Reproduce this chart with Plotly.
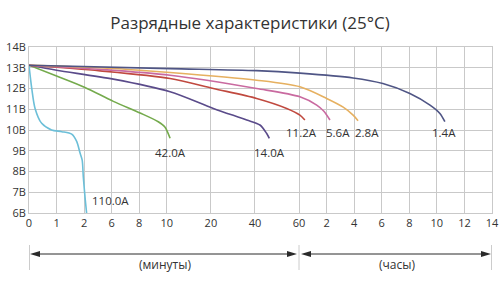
import plotly.graph_objects as go

# axis: tick positions (axis units) and their labels
tick_pos = [0, 1, 2, 3, 4, 5, 6.6, 8.2, 9.8, 10.8, 11.8, 12.8, 13.8, 14.8, 15.8, 16.8]
tick_text = ["0", "1", "2", "6", "8", "10", "20", "40", "60", "2", "4", "6", "8", "10", "12", "14"]
y_ticks = [6, 7, 8, 9, 10, 11, 12, 13, 14]
y_text = ["6В", "7В", "8В", "9В", "10В", "11В", "12В", "13В", "14В"]

# discharge curves (x in axis units, y in volts)
x_110 = [0, 0.1, 0.22, 0.46, 0.82, 1.19, 1.55, 1.73, 1.85, 1.93, 1.97, 2.03, 2.09]
y_110 = [13.12, 12.0, 11.04, 10.32, 10.0, 9.92, 9.8, 9.45, 8.9, 8.55, 7.75, 6.8, 6.0]

x_42 = [0, 1.0, 2.03, 3.06, 4.03, 4.69, 4.93, 5.12]
y_42 = [13.12, 12.6, 12.05, 11.38, 10.82, 10.4, 10.15, 9.6]

x_14 = [0, 1.0, 3.06, 5.12, 6.69, 7.9, 8.38, 8.62, 8.72]
y_14 = [13.12, 12.88, 12.45, 11.84, 11.04, 10.48, 10.24, 9.84, 9.6]

x_112 = [0, 2.58, 5.12, 6.69, 8.26, 9.35, 9.83, 10.01]
y_112 = [13.12, 12.85, 12.48, 12.0, 11.52, 11.04, 10.72, 10.48]

x_56 = [0, 2.58, 5.12, 8.26, 9.83, 10.44, 10.7, 10.92]
y_56 = [13.12, 12.92, 12.64, 12.0, 11.6, 11.2, 10.9, 10.48]

x_28 = [0, 2.58, 5.12, 8.26, 9.83, 10.8, 11.4, 11.76, 11.94]
y_28 = [13.12, 13.0, 12.77, 12.4, 12.08, 11.52, 11.1, 10.72, 10.45]

x_14h = [0, 5.12, 8.26, 9.83, 11.76, 12.84, 13.82, 14.55, 14.91, 15.09]
y_14h = [13.12, 12.96, 12.86, 12.74, 12.51, 12.24, 11.76, 11.2, 10.8, 10.4]

series = [
    ("110.0A", x_110, y_110, "#6cbfd8", 2.96, 6.58),
    ("42.0A", x_42, y_42, "#74aa4c", 5.15, 8.94),
    ("14.0A", x_14, y_14, "#5a4b8a", 8.74, 8.94),
    ("11.2A", x_112, y_112, "#c0493f", 9.9, 9.9),
    ("5.6A", x_56, y_56, "#c96aa0", 11.2, 9.9),
    ("2.8A", x_28, y_28, "#e6b060", 12.26, 9.9),
    ("1.4A", x_14h, y_14h, "#4f5585", 15.06, 9.9),
]

fig = go.Figure()
for name, xs, ys, col, lx, ly in series:
    fig.add_trace(go.Scatter(x=xs, y=ys, mode="lines", name=name,
                             line=dict(color=col, width=1.6, shape="spline", smoothing=0.8),
                             showlegend=False, hoverinfo="skip"))
    fig.add_annotation(x=lx, y=ly, xref="x", yref="y", text=name, showarrow=False,
                       xanchor="center", yanchor="middle",
                       font=dict(size=11.5, color="#333333", family="Open Sans"))

GRID = "#c9c9c9"
fig.update_xaxes(range=[0, 16.8], tickvals=tick_pos, ticktext=tick_text, automargin=False,
                 showgrid=True, gridcolor=GRID, gridwidth=1, zeroline=False,
                 showline=True, linecolor=GRID, mirror=True, ticks="",
                 tickfont=dict(size=11, color="#333333", family="Open Sans"))
fig.update_yaxes(range=[6, 14], tickvals=y_ticks, ticktext=y_text, automargin=False,
                 showgrid=True, gridcolor=GRID, gridwidth=1, zeroline=False,
                 showline=True, linecolor=GRID, mirror=True, ticks="",
                 tickfont=dict(size=11, color="#333333", family="Open Sans"))

# bottom span decorations (paper coordinates)
L, R, T, B = 29, 8, 47, 78
W, H = 500, 291
pw, ph = W - L - R, H - T - B


def px(xp):
    return (xp - L) / pw


def py(yp):
    return (H - B - yp) / ph


shapes = []
for xp in [29.5, 299, 491.5]:
    shapes.append(dict(type="line", xref="paper", yref="paper", x0=px(xp), x1=px(xp),
                       y0=py(245), y1=py(270), line=dict(color="#cccccc", width=1)))
arrow_col = "#2a2a2a"
yA = 254
for x0, x1 in [(30, 297), (301, 491)]:
    shapes.append(dict(type="line", xref="paper", yref="paper", x0=px(x0 + 6), x1=px(x1 - 6),
                       y0=py(yA), y1=py(yA), line=dict(color=arrow_col, width=1)))
    for tip, d in [(x0, 1), (x1, -1)]:
        path = "M {} {} L {} {} L {} {} Z".format(
            px(tip), py(yA), px(tip + d * 10), py(yA - 3), px(tip + d * 10), py(yA + 3))
        shapes.append(dict(type="path", xref="paper", yref="paper", path=path,
                           fillcolor=arrow_col, line=dict(width=0)))
fig.update_layout(shapes=shapes)
for txt, xc in [("(минуты)", 165), ("(часы)", 397)]:
    fig.add_annotation(x=px(xc), y=py(264), xref="paper", yref="paper", text=txt,
                       showarrow=False, xanchor="center", yanchor="middle",
                       font=dict(size=12, color="#333333", family="Open Sans"))

fig.update_layout(
    width=W, height=H,
    margin=dict(l=L, r=R, t=T, b=B, autoexpand=False),
    paper_bgcolor="white", plot_bgcolor="white",
    title=dict(text="Разрядные характеристики (25°C)", x=0.5, xanchor="center",
               y=1 - 23 / H, yanchor="middle",
               font=dict(size=17, color="#333333", family="Open Sans")),
)
fig.write_html("out.html")
